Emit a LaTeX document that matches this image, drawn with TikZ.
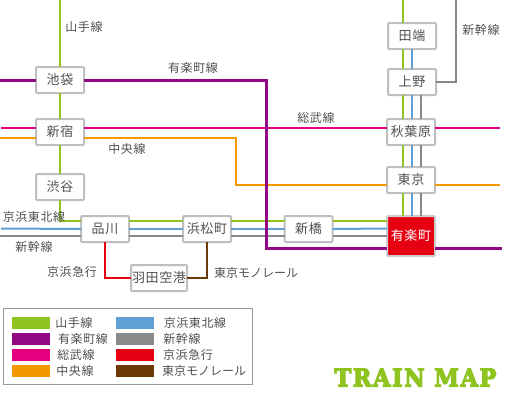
\documentclass[tikz,border=0pt]{standalone}
\usepackage{fontspec}
\setmainfont[LetterSpace=5]{Noto Sans CJK JP}
\newfontfamily\titlefont[BoldFeatures={FakeBold=5,LetterSpace=7}]{DejaVu Serif}
\usetikzlibrary{positioning}
\definecolor{yamanote}{HTML}{8FC31F}
\definecolor{yurakucho}{HTML}{920783}
\definecolor{sobu}{HTML}{E4007F}
\definecolor{chuo}{HTML}{F39800}
\definecolor{keihin}{HTML}{5F9FD6}
\definecolor{shinkansen}{HTML}{898989}
\definecolor{keikyu}{HTML}{E60012}
\definecolor{monorail}{HTML}{6A3906}
\definecolor{inkgray}{HTML}{505050}
\newcommand{\kanatight}{\addfontfeature{LetterSpace=0}}

\begin{document}
\begin{tikzpicture}[
  x=1pt,y=-1pt,
  node distance=26pt and 53.5pt,
  sta/.style={draw=black!25,fill=white,line width=2pt,rounded corners=1pt,outer sep=0pt,
    minimum width=48pt,minimum height=26pt,inner sep=0pt,text=inkgray,font=\fontsize{13}{15}\selectfont},
  lbl/.style={inner sep=0pt,text=inkgray,font=\fontsize{12}{14}\selectfont},
  rail/.style={line width=2pt},
  swatch/.style={minimum width=38pt,minimum height=12pt,inner sep=0pt,outer sep=0pt}
]
  \useasboundingbox (0,0) rectangle (510,400);

  \node[sta] (ikebukuro) at (60,80) {池袋};
  \node[sta,below=of ikebukuro] (shinjuku) {新宿};
  \node[sta,below=29pt of shinjuku.center,anchor=north,yshift=-13pt] (shibuya) {渋谷};
  \node[sta] (shinagawa) at (105,229) {品川};
  \node[sta,right=of shinagawa,xshift=0.5pt] (hamamatsucho) {浜松町};
  \node[sta,right=of hamamatsucho] (shimbashi) {新橋};
  \node[sta,draw=black!20,fill=keikyu,text=white,minimum height=40pt] (yurakuchoSta) at (411,236) {有楽町};
  \node[sta] (tokyo) at (411,180) {東京};
  \node[sta] (akihabara) at (411,132) {秋葉原};
  \node[sta] (ueno) at (412,82) {上野};
  \node[sta] (tabata) at (412,36) {田端};
  \node[sta,minimum width=56pt] (haneda) at (159,278) {羽田空港};

  % free ends
  \coordinate (yamaTop) at (60,0);
  \coordinate (yamaTopR) at (403,0);
  \coordinate (yuraL) at (0,80);
  \coordinate (yuraBend) at (266.5,248);
  \coordinate (yuraR) at (502,248);
  \coordinate (sobuL) at (1,128);
  \coordinate (sobuR) at (500,128);
  \coordinate (chuoL) at (0,138);
  \coordinate (chuoBend) at (236,185);
  \coordinate (chuoR) at (500,185);
  \coordinate (keihinL) at (1,228.5);
  \coordinate (shinL) at (0,236);
  \coordinate (shinTop) at (455.5,0);

  \draw[rail,sobu] (sobuL) -- ([yshift=4pt]shinjuku.west);
  \draw[rail,sobu] ([yshift=4pt]shinjuku.east) -- ([yshift=4pt]akihabara.west);
  \draw[rail,sobu] ([yshift=4pt]akihabara.east) -- (sobuR);
  \draw[rail,chuo] (chuoL) -- ([yshift=-6pt]shinjuku.west);
  \draw[rail,chuo] ([yshift=-6pt]shinjuku.east) -| (chuoBend) -- ([yshift=-5pt]tokyo.west);
  \draw[rail,chuo] ([yshift=-5pt]tokyo.east) -- (chuoR);

  \draw[rail,yamanote] (yamaTop) -- (ikebukuro);
  \draw[rail,yamanote] (ikebukuro) -- (shinjuku);
  \draw[rail,yamanote] (shinjuku) -- (shibuya);
  \draw[rail,yamanote] (shibuya.south) |- ([yshift=8pt]shinagawa.west);
  \draw[rail,yamanote] ([yshift=8pt]shinagawa.east) -- ([yshift=8pt]hamamatsucho.west);
  \draw[rail,yamanote] ([yshift=8pt]hamamatsucho.east) -- ([yshift=8pt]shimbashi.west);
  \draw[rail,yamanote] ([yshift=8pt]shimbashi.east) -- ([yshift=15pt]yurakuchoSta.west);
  \draw[rail,yamanote] (yamaTopR) -- ([xshift=-9pt]tabata.north);
  \draw[rail,yamanote] ([xshift=-9pt]tabata.south) -- ([xshift=-9pt]ueno.north);
  \draw[rail,yamanote] ([xshift=-9pt]ueno.south) -- ([xshift=-8pt]akihabara.north);
  \draw[rail,yamanote] ([xshift=-8pt]akihabara.south) -- ([xshift=-8pt]tokyo.north);
  \draw[rail,yamanote] ([xshift=-8pt]tokyo.south) -- ([xshift=-8pt]yurakuchoSta.north);

  \draw[rail,keihin] (keihinL) -- (shinagawa.west);
  \draw[rail,keihin] (shinagawa.east) -- (hamamatsucho.west);
  \draw[rail,keihin] (hamamatsucho.east) -- (shimbashi.west);
  \draw[rail,keihin] (shimbashi.east) -- ([yshift=7.5pt]yurakuchoSta.west);
  \draw[rail,keihin] (tabata.south) -- (ueno.north);
  \draw[rail,keihin] (ueno.south) -- ([xshift=1pt]akihabara.north);
  \draw[rail,keihin] ([xshift=1pt]akihabara.south) -- ([xshift=1pt]tokyo.north);
  \draw[rail,keihin] ([xshift=1pt]tokyo.south) -- ([xshift=1pt]yurakuchoSta.north);

  \draw[rail,shinkansen] (shinL) -- ([yshift=-7pt]shinagawa.west);
  \draw[rail,shinkansen] ([yshift=-7pt]shinagawa.east) -- ([yshift=-7pt]hamamatsucho.west);
  \draw[rail,shinkansen] ([yshift=-7pt]hamamatsucho.east) -- ([yshift=-7pt]shimbashi.west);
  \draw[rail,shinkansen] ([yshift=-7pt]shimbashi.east) -- (yurakuchoSta.west);
  \draw[rail,shinkansen] (shinTop) |- (ueno.east);
  \draw[rail,shinkansen] ([xshift=9pt]ueno.south) -- ([xshift=10pt]akihabara.north);
  \draw[rail,shinkansen] ([xshift=10pt]akihabara.south) -- ([xshift=10pt]tokyo.north);
  \draw[rail,shinkansen] ([xshift=10pt]tokyo.south) -- ([xshift=10pt]yurakuchoSta.north);

  \draw[rail,keikyu] (shinagawa.south) |- (haneda.west);
  \draw[rail,monorail] (hamamatsucho.south) |- (haneda.east);

  \draw[yurakucho,line width=3pt] (yuraL) -- (ikebukuro.west);
  \draw[yurakucho,line width=3pt] (ikebukuro.east) -| (yuraBend) -- ([yshift=-12pt]yurakuchoSta.west);
  \draw[yurakucho,line width=3pt] ([yshift=-12pt]yurakuchoSta.east) -- (yuraR);

  \node[lbl] (lblYamanote) at (84,27) {山手線};
  \node[lbl] (lblYuraku) at (193,68) {有楽町線};
  \node[lbl] (lblSobu) at (316,118) {総武線};
  \node[lbl] (lblChuo) at (127,149) {中央線};
  \node[lbl] (lblKeihin) at (34,217) {京浜東北線};
  \node[lbl] (lblShinL) at (34,247) {新幹線};
  \node[lbl] (lblKeikyu) at (72,272) {京浜急行};
  \node[lbl] (lblMono) at (256,273) {\kanatight 東京モノレール};
  \node[lbl] (lblShinR) at (481,30) {新幹線};

  % legend
  \node[draw=black!40,line width=1pt,minimum width=249pt,minimum height=76pt,inner sep=0pt] (legend) at (128,346.5) {};
  \foreach \name/\col/\txt/\ypos/\cx in {a/yamanote/山手線/323/74,b/yurakucho/有楽町線/339/83,c/sobu/総武線/355/76,d/chuo/中央線/371/75}{
    \node[swatch,fill=\col] (sw\name) at (31,\ypos) {};
    \node[lbl] (tx\name) at (\cx,\ypos) {\txt};
  }
  \foreach \name/\col/\txt/\ypos/\cx in {e/keihin/京浜東北線/323/195,f/shinkansen/新幹線/339/182,g/keikyu/京浜急行/355/188,h/monorail/\kanatight 東京モノレール/371/204}{
    \node[swatch,fill=\col] (sw\name) at (135,\ypos) {};
    \node[lbl] (tx\name) at (\cx,\ypos) {\txt};
  }

  \node[inner sep=0pt,text=yamanote,font=\titlefont\bfseries\fontsize{21}{24}\selectfont] (title) at (415.5,377.5) {\scalebox{1.07}[1.16]{TRAIN MAP}};
\end{tikzpicture}
\end{document}
